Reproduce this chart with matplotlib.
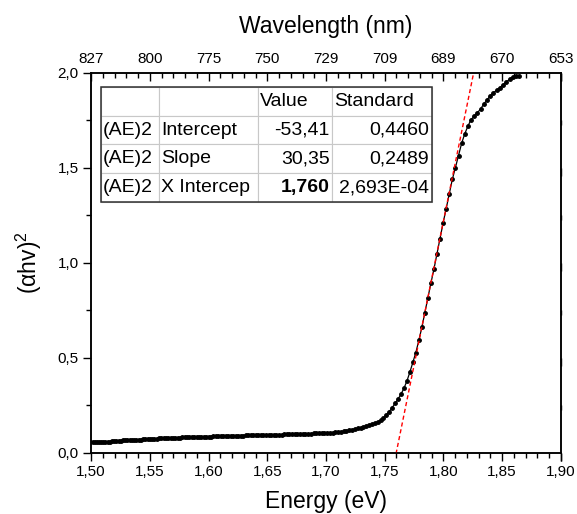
import matplotlib
matplotlib.use("Agg")
import matplotlib.pyplot as plt
import numpy as np
from matplotlib.ticker import FuncFormatter, MultipleLocator, AutoMinorLocator
from matplotlib.table import Table
from matplotlib.patches import Rectangle

plt.rcParams['font.family'] = ['Liberation Sans', 'DejaVu Sans']
plt.rcParams['mathtext.default'] = 'regular'

# measured spectrum, 1 nm steps
wavelength_nm = [
    665, 666, 667, 668, 669, 670, 671, 672, 673, 674,
    675, 676, 677, 678, 679, 680, 681, 682, 683, 684,
    685, 686, 687, 688, 689, 690, 691, 692, 693, 694,
    695, 696, 697, 698, 699, 700, 701, 702, 703, 704,
    705, 706, 707, 708, 709, 710, 711, 712, 713, 714,
    715, 716, 717, 718, 719, 720, 721, 722, 723, 724,
    725, 726, 727, 728, 729, 730, 731, 732, 733, 734,
    735, 736, 737, 738, 739, 740, 741, 742, 743, 744,
    745, 746, 747, 748, 749, 750, 751, 752, 753, 754,
    755, 756, 757, 758, 759, 760, 761, 762, 763, 764,
    765, 766, 767, 768, 769, 770, 771, 772, 773, 774,
    775, 776, 777, 778, 779, 780, 781, 782, 783, 784,
    785, 786, 787, 788, 789, 790, 791, 792, 793, 794,
    795, 796, 797, 798, 799, 800, 801, 802, 803, 804,
    805, 806, 807, 808, 809, 810, 811, 812, 813, 814,
    815, 816, 817, 818, 819, 820, 821, 822, 823, 824,
    825, 826, 827,
]
ahv2 = [
    1.983, 1.984, 1.979, 1.967, 1.952, 1.937, 1.923, 1.909, 1.895, 1.879,
    1.857, 1.836, 1.810, 1.791, 1.772, 1.755, 1.720, 1.680, 1.630, 1.565,
    1.502, 1.440, 1.362, 1.285, 1.210, 1.128, 1.045, 0.967, 0.893, 0.815,
    0.738, 0.660, 0.592, 0.528, 0.476, 0.425, 0.378, 0.340, 0.309, 0.283,
    0.260, 0.238, 0.217, 0.198, 0.182, 0.171, 0.163, 0.157, 0.151, 0.146,
    0.141, 0.137, 0.133, 0.129, 0.125, 0.121, 0.118, 0.115, 0.113, 0.111,
    0.109, 0.108, 0.107, 0.106, 0.105, 0.104, 0.104, 0.103, 0.102, 0.102,
    0.101, 0.101, 0.100, 0.100, 0.099, 0.099, 0.098, 0.098, 0.098, 0.097,
    0.097, 0.096, 0.096, 0.096, 0.095, 0.095, 0.095, 0.094, 0.094, 0.094,
    0.093, 0.093, 0.093, 0.092, 0.092, 0.092, 0.091, 0.091, 0.091, 0.090,
    0.090, 0.090, 0.089, 0.089, 0.088, 0.088, 0.088, 0.087, 0.087, 0.086,
    0.086, 0.086, 0.085, 0.085, 0.084, 0.084, 0.083, 0.083, 0.082, 0.082,
    0.081, 0.081, 0.080, 0.080, 0.079, 0.079, 0.078, 0.078, 0.077, 0.077,
    0.076, 0.076, 0.075, 0.074, 0.074, 0.073, 0.072, 0.072, 0.071, 0.070,
    0.070, 0.069, 0.068, 0.068, 0.067, 0.066, 0.065, 0.065, 0.064, 0.063,
    0.062, 0.061, 0.060, 0.059, 0.058, 0.057, 0.057, 0.056, 0.056, 0.055,
    0.055, 0.055, 0.055,
]

# linear fit
fit_intercept = -53.41
fit_slope = 30.35
fit_range = [1.74, 1.84]

# results table
table_header = ['', '', 'Value', 'Standard']
table_rows = [
    ['(AE)2', 'Intercept', '-53,41', '0,4460'],
    ['(AE)2', 'Slope', '30,35', '0,2489'],
    ['(AE)2', 'X Intercep', '1,760', '2,693E-04'],
]

energy_ticks = [1.50, 1.55, 1.60, 1.65, 1.70, 1.75, 1.80, 1.85, 1.90]
wavelength_labels = ['827', '800', '775', '750', '729', '709', '689', '670', '653']

energy = 1240.0 / np.array(wavelength_nm)
fit_x = np.array(fit_range)
fit_y = fit_slope * fit_x + fit_intercept

fig = plt.figure(figsize=(5.77, 5.14), dpi=100)
ax = fig.add_axes([0.158, 0.119, 0.814, 0.739])

ax.plot(energy, ahv2, color='black', lw=0.9, marker='o', ms=2.5, zorder=3)
ax.plot(fit_x, fit_y, color='red', lw=1.0, ls=(0, (3, 2)), zorder=4)

ax.set_xlim(1.50, 1.90)
ax.set_ylim(0, 2.0)
ax.xaxis.set_major_locator(MultipleLocator(0.05))
ax.xaxis.set_minor_locator(AutoMinorLocator(5))
ax.yaxis.set_major_locator(MultipleLocator(0.5))
ax.yaxis.set_minor_locator(AutoMinorLocator(2))
ax.xaxis.set_major_formatter(FuncFormatter(lambda v, p: f'{v:.2f}'.replace('.', ',')))
ax.yaxis.set_major_formatter(FuncFormatter(lambda v, p: f'{v:.1f}'.replace('.', ',')))

ax.tick_params(axis='both', which='major', direction='out', length=6, width=1, labelsize=11, pad=3)
ax.tick_params(axis='both', which='minor', direction='out', length=3.5, width=1)
ax.tick_params(axis='y', which='both', right=True, labelright=False)
for t in ax.yaxis.get_ticklines(minor=False)[1::2] + ax.yaxis.get_ticklines(minor=True)[1::2]:
    t.set_marker(3)  # inward on right side
for s in ax.spines.values():
    s.set_linewidth(1.1)

ax.set_xlabel('Energy (eV)', fontsize=16.5, labelpad=8)
ax.set_ylabel('(αhv)$^2$', fontsize=16.5, labelpad=10)

ax2 = ax.twiny()
ax2.set_xlim(ax.get_xlim())
ax2.set_xticks(energy_ticks)
ax2.set_xticklabels(wavelength_labels)
ax2.xaxis.set_minor_locator(AutoMinorLocator(5))
ax2.tick_params(axis='x', which='major', direction='in', length=6, width=1, labelsize=11, pad=5)
ax2.tick_params(axis='x', which='minor', direction='in', length=3.5, width=1)
ax2.set_xlabel('Wavelength (nm)', fontsize=16.5, labelpad=14)
for s in ax2.spines.values():
    s.set_linewidth(1.1)

# table
col_w = [58, 99, 74, 100]
tb_box = [0.021, 0.6605, 0.704, 0.3025]
tbl = Table(ax, bbox=tb_box)
all_rows = [table_header] + table_rows
for r, row in enumerate(all_rows):
    for c, txt in enumerate(row):
        loc = 'right' if (r > 0 and c >= 2) else 'left'
        cell = tbl.add_cell(r, c, width=col_w[c] / sum(col_w), height=0.25,
                            text=txt, loc=loc, edgecolor='#c8c8c8', facecolor='white')
        cell.PAD = 0.025
        cell.set_linewidth(0.8)
        if r == 3 and c == 2:
            cell.get_text().set_fontweight('bold')
tbl.auto_set_font_size(False)
tbl.set_fontsize(14)
tbl.set_zorder(5)
ax.add_table(tbl)
ax.add_patch(Rectangle((tb_box[0], tb_box[1]), tb_box[2], tb_box[3], transform=ax.transAxes,
                       fill=False, edgecolor='#303030', lw=1.1, zorder=6))

fig.savefig('out.png', dpi=100)
